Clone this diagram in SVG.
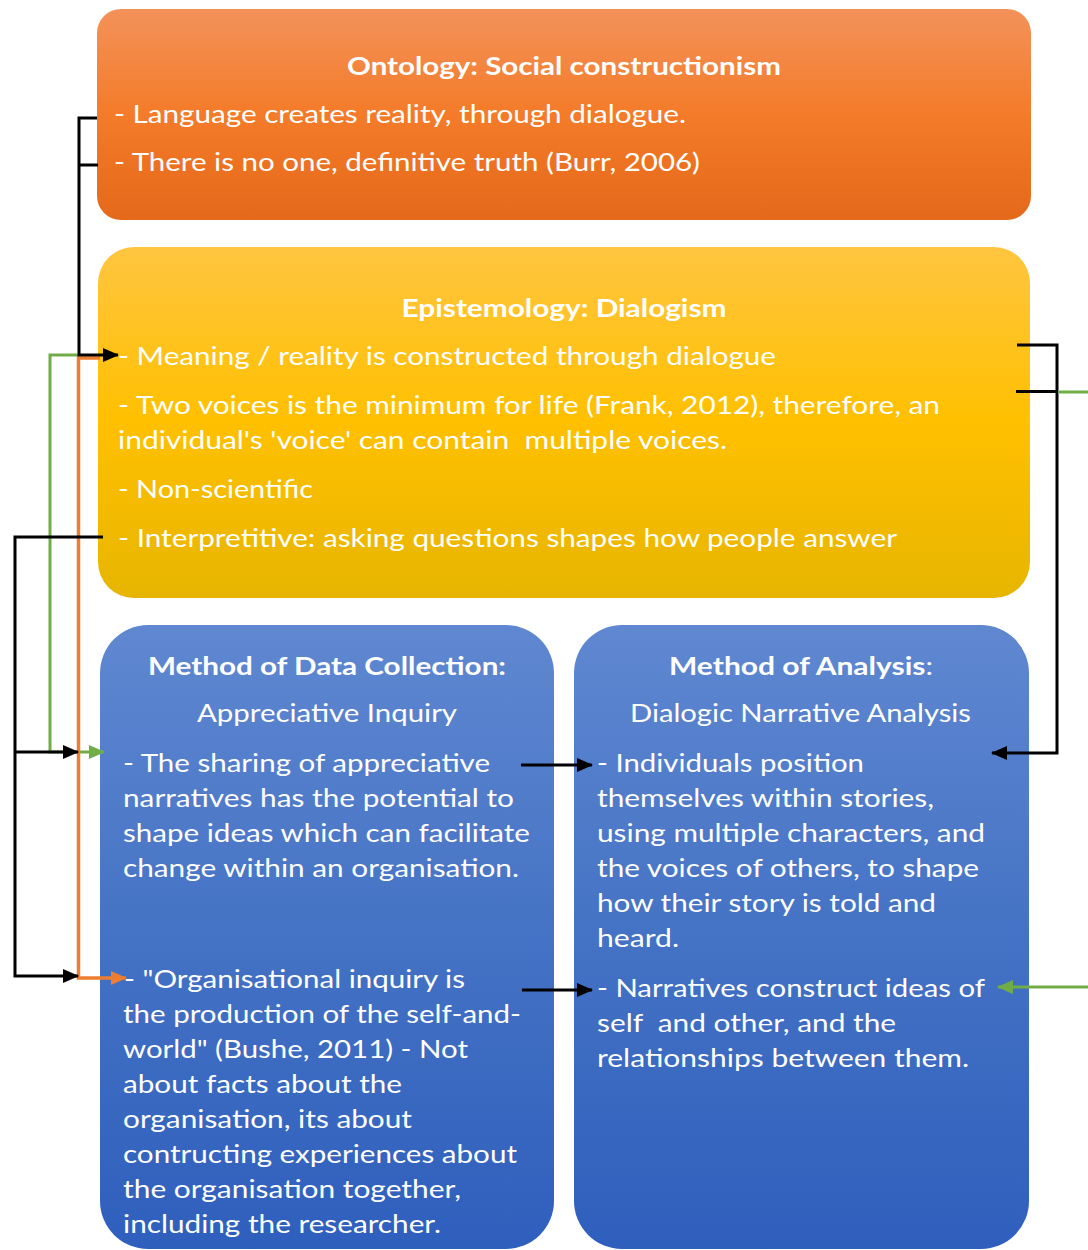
<svg xmlns="http://www.w3.org/2000/svg" width="1088" height="1250" viewBox="0 0 1088 1250">
<style>
.t{font-family:Lato,"Open Sans","Noto Sans",sans-serif;font-size:24.5px;fill:#fff}
.b{font-weight:bold}
.c{text-anchor:middle}
.k{fill:none;stroke:#000;stroke-width:3}
.g{fill:none;stroke:#70AD47;stroke-width:3}
.o{fill:none;stroke:#ED7D31;stroke-width:3.5}
</style>
<defs>
<linearGradient id="gO" x1="0" y1="0" x2="0" y2="1">
<stop offset="0" stop-color="#F3925A"/><stop offset="0.5" stop-color="#F47B29"/><stop offset="1" stop-color="#E4691A"/>
</linearGradient>
<linearGradient id="gY" x1="0" y1="0" x2="0" y2="1">
<stop offset="0" stop-color="#FFC540"/><stop offset="0.5" stop-color="#FFC000"/><stop offset="1" stop-color="#E7B500"/>
</linearGradient>
<linearGradient id="gB" x1="0" y1="0" x2="0" y2="1">
<stop offset="0" stop-color="#6088D1"/><stop offset="0.5" stop-color="#4472C4"/><stop offset="1" stop-color="#2F5FBD"/>
</linearGradient>
<marker id="aK" markerUnits="userSpaceOnUse" markerWidth="16" markerHeight="14" refX="15" refY="7" orient="auto"><path d="M0,0 L16,7 L0,14 z" fill="#000"/></marker>
<marker id="aG" markerUnits="userSpaceOnUse" markerWidth="16" markerHeight="14" refX="15" refY="7" orient="auto"><path d="M0,0 L16,7 L0,14 z" fill="#70AD47"/></marker>
<marker id="aO" markerUnits="userSpaceOnUse" markerWidth="16" markerHeight="14" refX="15" refY="7" orient="auto"><path d="M0,0 L16,7 L0,14 z" fill="#ED7D31"/></marker>
</defs>

<g id="ontology">
<rect x="97" y="9" width="934" height="211" rx="24" fill="url(#gO)"/>
<text class="t b c" x="564" y="75" textLength="434" lengthAdjust="spacingAndGlyphs">Ontology: Social constructionism</text>
<text class="t" x="114" y="123" textLength="572" lengthAdjust="spacingAndGlyphs">- Language creates reality, through dialogue.</text>
<text class="t" x="114" y="171" textLength="586" lengthAdjust="spacingAndGlyphs">- There is no one, definitive truth (Burr, 2006)</text>
</g>

<g id="epistemology">
<rect x="98" y="247" width="932" height="351" rx="36" fill="url(#gY)"/>
<text class="t b c" x="564" y="317" textLength="325" lengthAdjust="spacingAndGlyphs">Epistemology: Dialogism</text>
<text class="t" x="118" y="365" textLength="658" lengthAdjust="spacingAndGlyphs">- Meaning / reality is constructed through dialogue</text>
<text class="t" x="118" y="414" textLength="822" lengthAdjust="spacingAndGlyphs">- Two voices is the minimum for life (Frank, 2012), therefore, an</text>
<text class="t" x="118" y="449" textLength="609" lengthAdjust="spacingAndGlyphs" xml:space="preserve">individual's 'voice' can contain  multiple voices.</text>
<text class="t" x="118" y="498" textLength="195" lengthAdjust="spacingAndGlyphs">- Non-scientific</text>
<text class="t" x="118" y="547" textLength="779" lengthAdjust="spacingAndGlyphs">- Interpretitive: asking questions shapes how people answer</text>
</g>

<g id="data-collection">
<rect x="100" y="625" width="454" height="624" rx="48" fill="url(#gB)"/>
<text class="t b c" x="327" y="675" textLength="358" lengthAdjust="spacingAndGlyphs">Method of Data Collection:</text>
<text class="t c" x="327" y="722" textLength="260" lengthAdjust="spacingAndGlyphs">Appreciative Inquiry</text>
<text class="t" x="123" y="772" textLength="367" lengthAdjust="spacingAndGlyphs">- The sharing of appreciative</text>
<text class="t" x="123" y="807" textLength="391" lengthAdjust="spacingAndGlyphs">narratives has the potential to</text>
<text class="t" x="123" y="842" textLength="407" lengthAdjust="spacingAndGlyphs">shape ideas which can facilitate</text>
<text class="t" x="123" y="877" textLength="396" lengthAdjust="spacingAndGlyphs">change within an organisation.</text>
<text class="t" x="124" y="988" textLength="341" lengthAdjust="spacingAndGlyphs">- "Organisational inquiry is</text>
<text class="t" x="123" y="1023" textLength="398" lengthAdjust="spacingAndGlyphs">the production of the self-and-</text>
<text class="t" x="123" y="1058" textLength="345" lengthAdjust="spacingAndGlyphs">world" (Bushe, 2011) - Not</text>
<text class="t" x="123" y="1093" textLength="279" lengthAdjust="spacingAndGlyphs">about facts about the</text>
<text class="t" x="123" y="1128" textLength="289" lengthAdjust="spacingAndGlyphs">organisation, its about</text>
<text class="t" x="123" y="1163" textLength="394" lengthAdjust="spacingAndGlyphs">contructing experiences about</text>
<text class="t" x="123" y="1198" textLength="338" lengthAdjust="spacingAndGlyphs">the organisation together,</text>
<text class="t" x="123" y="1233" textLength="318" lengthAdjust="spacingAndGlyphs">including the researcher.</text>
</g>

<g id="analysis">
<rect x="574" y="625" width="455" height="624" rx="48" fill="url(#gB)"/>
<text class="t" x="669" y="675" textLength="264" lengthAdjust="spacingAndGlyphs"><tspan class="b">Method of Analysis</tspan>:</text>
<text class="t" x="630" y="722" textLength="341" lengthAdjust="spacingAndGlyphs">Dialogic Narrative Analysis</text>
<text class="t" x="597" y="772" textLength="267" lengthAdjust="spacingAndGlyphs">- Individuals position</text>
<text class="t" x="597" y="807" textLength="337" lengthAdjust="spacingAndGlyphs">themselves within stories,</text>
<text class="t" x="597" y="842" textLength="388" lengthAdjust="spacingAndGlyphs">using multiple characters, and</text>
<text class="t" x="597" y="877" textLength="382" lengthAdjust="spacingAndGlyphs">the voices of others, to shape</text>
<text class="t" x="597" y="912" textLength="339" lengthAdjust="spacingAndGlyphs">how their story is told and</text>
<text class="t" x="597" y="947" textLength="82" lengthAdjust="spacingAndGlyphs">heard.</text>
<text class="t" x="597" y="997" textLength="388" lengthAdjust="spacingAndGlyphs">- Narratives construct ideas of</text>
<text class="t" x="597" y="1032" textLength="299" lengthAdjust="spacingAndGlyphs" xml:space="preserve">self  and other, and the</text>
<text class="t" x="597" y="1067" textLength="372" lengthAdjust="spacingAndGlyphs">relationships between them.</text>
</g>

<g id="connectors">
<path class="g" d="M79,355 H50 V752 H104" marker-end="url(#aG)"/>
<path class="o" d="M100,358 H78.5 V978 H126" marker-end="url(#aO)"/>
<path class="k" d="M97,118 H79 V355 H118" marker-end="url(#aK)"/>
<path class="k" d="M79,165 H98"/>
<path class="k" d="M103,537 H15 V976 H78" marker-end="url(#aK)"/>
<path class="k" d="M15,752 H78" marker-end="url(#aK)"/>
<path class="k" d="M1017,345 H1057 V753 H992" marker-end="url(#aK)"/>
<path class="k" d="M1016,391.5 H1057"/>
<path class="g" d="M1058,392 H1088"/>
<path class="g" d="M1088,987 H998" marker-end="url(#aG)"/>
<path class="k" d="M521,765 H592" marker-end="url(#aK)"/>
<path class="k" d="M522,990 H592" marker-end="url(#aK)"/>
</g>
</svg>
